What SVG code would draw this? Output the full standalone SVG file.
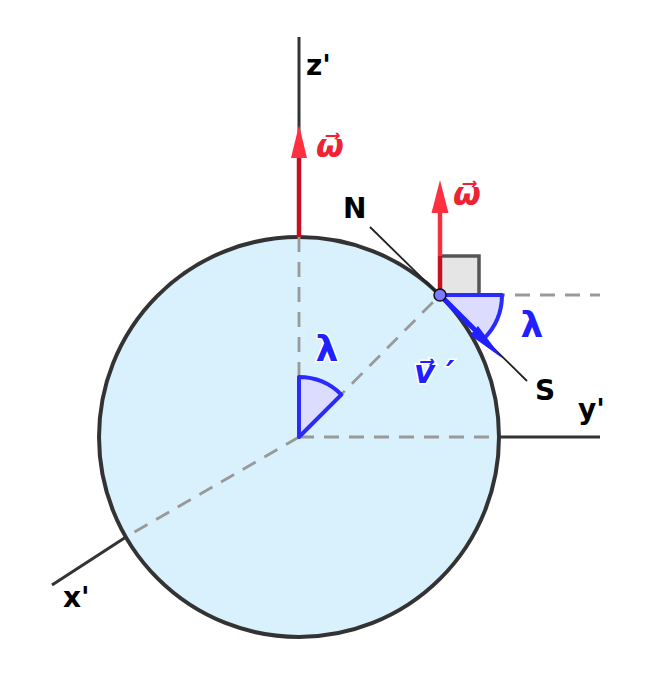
<svg xmlns="http://www.w3.org/2000/svg" width="662" height="676" viewBox="0 0 662 676">
<style>
.axis{stroke:#333;stroke-width:3;fill:none}
.dash{stroke:#999;stroke-width:2.8;stroke-dasharray:15 10;fill:none}
.lbl{font-family:"DejaVu Sans","Liberation Sans",sans-serif;font-weight:bold;font-size:28px;fill:#000}
.sector{fill:#dcdcff;stroke:#2a2aff;stroke-width:4;stroke-linejoin:round}
.greek{font-family:"DejaVu Sans",sans-serif;font-weight:bold;font-size:32px;stroke:#fff;stroke-width:3;paint-order:stroke}
.it{font-style:italic}
.lam{font-size:36px}
.head{fill:#ff3040}
</style>
<rect width="662" height="676" fill="#fff"/>
<g id="sphere">
<circle cx="299" cy="437" r="200" fill="#d9f1fc" stroke="#333" stroke-width="4"/>
</g>
<g id="connectors">
<line class="axis" x1="299" y1="37" x2="299" y2="237"/>
<line class="dash" x1="299" y1="237" x2="299" y2="437"/>
<line class="dash" x1="299" y1="437" x2="499" y2="437"/>
<line class="axis" x1="499" y1="437" x2="600" y2="437"/>
<line class="dash" x1="299" y1="437" x2="126" y2="537"/>
<line class="axis" x1="126" y1="537" x2="52" y2="585"/>
<line class="dash" x1="299" y1="437" x2="440" y2="295"/>
<line class="dash" x1="440" y1="295" x2="600" y2="295"/>
<line stroke="#222" stroke-width="1.8" x1="370" y1="227" x2="527" y2="381"/>
</g>
<g id="angle-center">
<path class="sector" d="M299,437 L299,377 A60,60 0 0,1 341.4,394.6 Z"/>
<text class="greek lam" x="327" y="361" text-anchor="middle" fill="#2020ff">λ</text>
</g>
<g id="right-angle">
<rect x="440" y="256" width="39" height="39" fill="#e5e5e5" stroke="#555" stroke-width="3.5"/>
</g>
<g id="angle-right">
<path class="sector" d="M440,295 L502,295 A62,62 0 0,1 483.8,338.8 Z"/>
<text class="greek lam" x="532" y="337" text-anchor="middle" fill="#2020ff">λ</text>
</g>
<g id="omega-center">
<line x1="299" y1="237" x2="299" y2="157" stroke="#c41020" stroke-width="4.5"/>
<polygon class="head" points="299,125 307,158 291,158"/>
<text class="greek it" x="316" y="157" fill="#ee2233">ω⃗</text>
</g>
<g id="velocity">
<line x1="440" y1="295" x2="480" y2="335" stroke="#2020ff" stroke-width="5"/>
<polygon points="502,358 470,335 478,326" fill="#2020ff"/>
<text class="greek it" x="414" y="383" fill="#2020ff">v⃗ ′</text>
</g>
<g id="omega-right">
<line x1="440" y1="295" x2="440" y2="256" stroke="#c41020" stroke-width="4.5"/>
<line x1="440" y1="256" x2="440" y2="212" stroke="#f5303f" stroke-width="4.5"/>
<polygon class="head" points="440,180 448.5,213 431.5,213"/>
<text class="greek it" x="453" y="205" fill="#ee2233">ω⃗</text>
</g>
<g id="point">
<circle cx="440" cy="295" r="6" fill="#7b7bff" stroke="#111" stroke-width="1.5"/>
</g>
<g id="labels">
<text class="lbl" x="306" y="75">z'</text>
<text class="lbl" x="343" y="218">N</text>
<text class="lbl" x="535" y="400">S</text>
<text class="lbl" x="578" y="419">y'</text>
<text class="lbl" x="63" y="607">x'</text>
</g>
</svg>
